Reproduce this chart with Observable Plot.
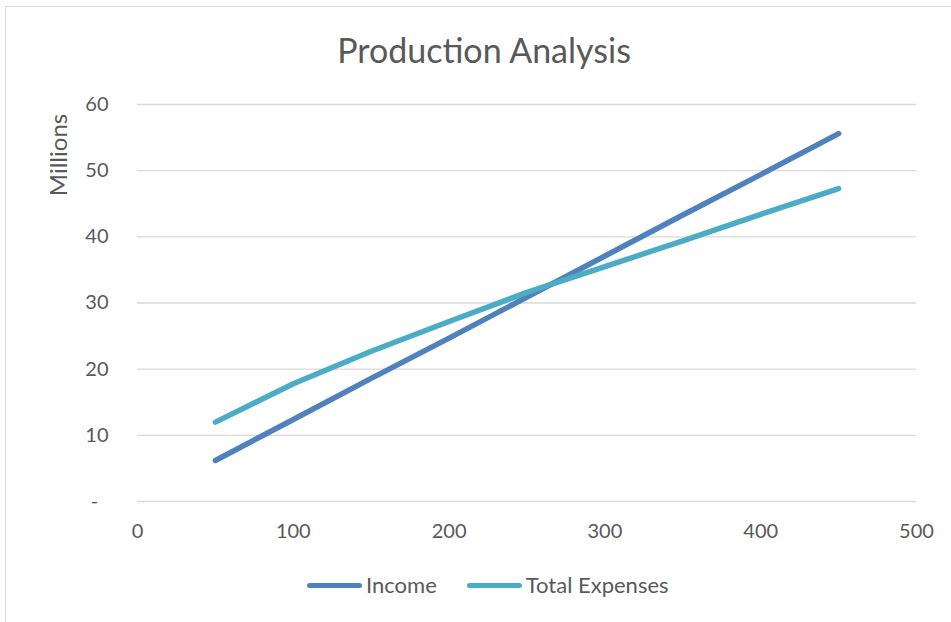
<!DOCTYPE html>
<html>
<head>
<meta charset="utf-8">
<script src="https://cdn.jsdelivr.net/npm/d3@7"></script>
<script src="https://cdn.jsdelivr.net/npm/@observablehq/plot@0.6"></script>
<style>
  html, body { margin: 0; padding: 0; background: #fff; overflow: hidden; }
  body { width: 951px; height: 622px; position: relative; font-family: Lato, "Open Sans", sans-serif; color: #595959; }
  #frame { position: absolute; left: 5px; top: 6px; width: 1000px; height: 700px; border: 1px solid #d9d9d9; box-sizing: border-box; }
  #chart { position: absolute; left: 0; top: 0; }
  #title { position: absolute; left: 0; width: 968px; top: 30px; text-align: center; font-size: 34px; line-height: 40px; }
  #ylabel { position: absolute; left: 57px; top: 155px; transform: translate(-50%, -50%) rotate(-90deg); font-size: 24px; white-space: nowrap; }
  #legend { position: absolute; top: 570px; left: 307px; font-size: 22px; line-height: 30px; display: flex; align-items: center; }
  .item { display: flex; align-items: center; margin-right: 30px; }
  .swatch { width: 55px; height: 5px; border-radius: 3px; margin-right: 4px; }
</style>
</head>
<body>
<div id="frame"></div>
<div id="chart"></div>
<div id="title">Production Analysis</div>
<div id="ylabel">Millions</div>
<div id="legend"></div>
<script>
// Units produced and the resulting income / total expenses (millions)
const quantity = [50, 100, 150, 200, 250, 300, 350, 400, 450];
const income   = [6.2, 12.4, 18.6, 24.7, 30.9, 37.1, 43.3, 49.4, 55.6];
const expenses = [12.0, 17.8, 22.7, 27.2, 31.6, 35.5, 39.4, 43.4, 47.3];

const xTicks = [0, 100, 200, 300, 400, 500];
const yTicks = [0, 10, 20, 30, 40, 50, 60];

const seriesNames = ["Income", "Total Expenses"];
const seriesColors = ["#4f81bd", "#4bacc6"];

const rows = [
  ...quantity.map((q, i) => ({ q, v: income[i], s: seriesNames[0] })),
  ...quantity.map((q, i) => ({ q, v: expenses[i], s: seriesNames[1] }))
];

const chart = Plot.plot({
  width: 951,
  height: 622,
  marginLeft: 137,
  marginRight: 35,
  marginTop: 104,
  marginBottom: 121,
  style: { fontFamily: "Lato, 'Open Sans', sans-serif", fontSize: "20px", color: "#595959", background: "transparent" },
  x: { domain: [0, 500], ticks: xTicks, tickSize: 0, tickPadding: 22, label: null },
  y: {
    domain: [0, 60], ticks: yTicks, tickSize: 0, tickPadding: 29, label: null,
    // accounting-style zero: a dash set in from the right edge
    tickFormat: d => d === 0 ? "-\u00A0\u00A0" : String(d)
  },
  color: { domain: seriesNames, range: seriesColors },
  marks: [
    Plot.ruleY(yTicks, { stroke: "#d9d9d9", strokeWidth: 1.3 }),
    Plot.line(rows, {
      x: "q", y: "v", z: "s", stroke: "s",
      strokeWidth: 5.5, strokeLinecap: "round", strokeLinejoin: "round"
    })
  ]
});
document.getElementById("chart").appendChild(chart);

// Legend below the plot
const legend = document.getElementById("legend");
seriesNames.forEach((name, i) => {
  const item = document.createElement("div");
  item.className = "item";
  const sw = document.createElement("div");
  sw.className = "swatch";
  sw.style.background = seriesColors[i];
  const label = document.createElement("span");
  label.textContent = name;
  item.appendChild(sw);
  item.appendChild(label);
  legend.appendChild(item);
});
</script>
</body>
</html>
